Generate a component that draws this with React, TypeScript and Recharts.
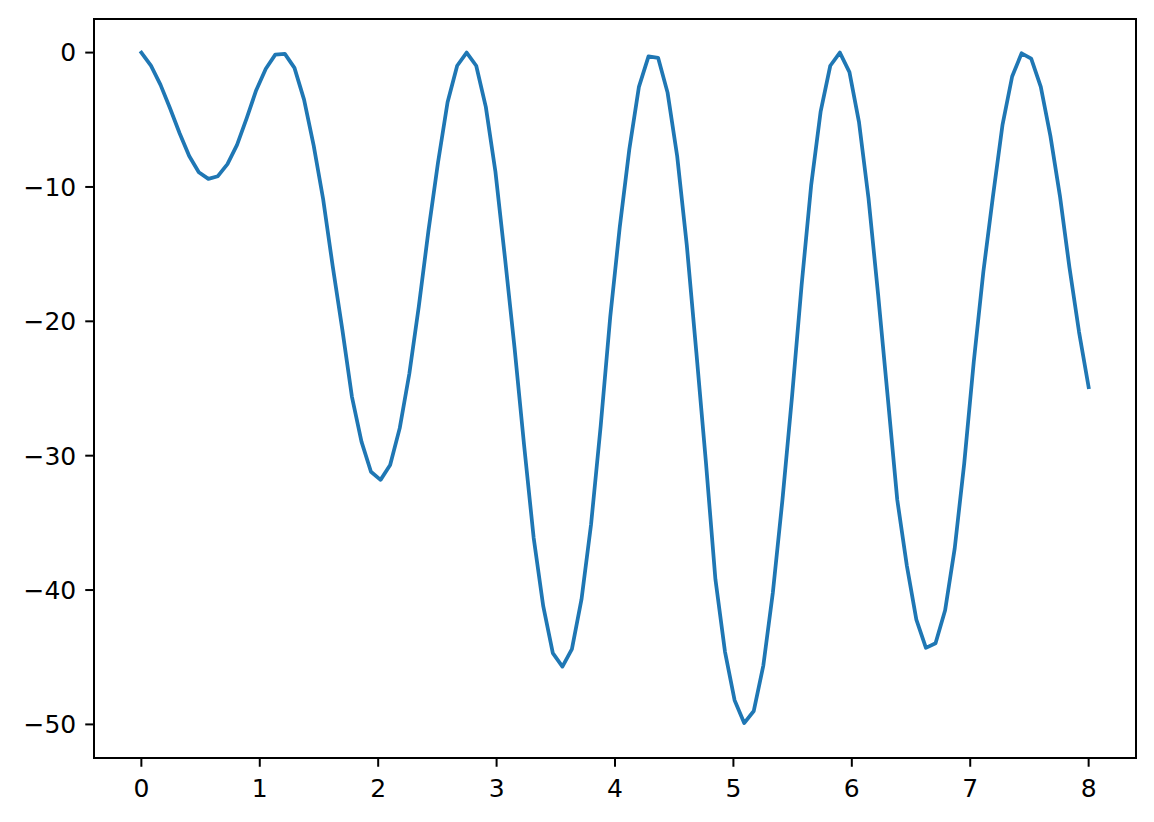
import { LineChart, Line, XAxis, YAxis, ReferenceArea } from 'recharts'

// sample positions along x (0 .. 8)
const xs = [
  0, 0.081, 0.162, 0.242, 0.323, 0.404, 0.485, 0.566, 0.646, 0.727,
  0.808, 0.889, 0.97, 1.051, 1.131, 1.212, 1.293, 1.374, 1.455, 1.535,
  1.616, 1.697, 1.778, 1.859, 1.939, 2.02, 2.101, 2.182, 2.263, 2.343,
  2.424, 2.505, 2.586, 2.667, 2.747, 2.828, 2.909, 2.99, 3.071, 3.152,
  3.232, 3.313, 3.394, 3.475, 3.556, 3.636, 3.717, 3.798, 3.879, 3.96,
  4.04, 4.121, 4.202, 4.283, 4.364, 4.444, 4.525, 4.606, 4.687, 4.768,
  4.848, 4.929, 5.01, 5.091, 5.172, 5.253, 5.333, 5.414, 5.495, 5.576,
  5.657, 5.737, 5.818, 5.899, 5.98, 6.061, 6.141, 6.222, 6.303, 6.384,
  6.465, 6.545, 6.626, 6.707, 6.788, 6.869, 6.949, 7.03, 7.111, 7.192,
  7.273, 7.354, 7.434, 7.515, 7.596, 7.677, 7.758, 7.838, 7.919, 8.0,
]

// values
const ys = [
  0, -0.97, -2.4, -4.14, -6.0, -7.7, -8.9, -9.4, -9.2, -8.3,
  -6.87, -4.9, -2.8, -1.2, -0.15, -0.1, -1.14, -3.5, -6.9, -10.9,
  -15.9, -20.6, -25.6, -28.95, -31.2, -31.8, -30.7, -27.95, -23.9, -18.9,
  -13.3, -8.2, -3.7, -0.98, 0.0, -0.98, -4.04, -8.85, -15.3, -22.0,
  -29.2, -36.1, -41.2, -44.7, -45.7, -44.4, -40.7, -35.1, -27.8, -19.65,
  -13.0, -7.2, -2.55, -0.28, -0.39, -2.98, -7.7, -14.3, -22.3, -30.5,
  -39.2, -44.6, -48.2, -49.9, -49.0, -45.6, -40.2, -33.3, -25.6, -17.3,
  -9.85, -4.37, -0.98, 0.0, -1.45, -5.2, -10.85, -18.0, -25.6, -33.3,
  -38.2, -42.2, -44.3, -43.96, -41.5, -36.9, -30.6, -23.0, -16.3, -10.7,
  -5.36, -1.78, -0.05, -0.45, -2.55, -6.2, -10.7, -16.0, -20.8, -24.9,
]

const xTicks = [0, 1, 2, 3, 4, 5, 6, 7, 8]
const yTicks = [0, -10, -20, -30, -40, -50]

const data = xs.map((x, i) => ({ x, y: ys[i] }))

const fmt = (v: number) => (v < 0 ? '\u2212' + Math.abs(v) : String(v))

const tickStyle = { fontFamily: 'DejaVu Sans', fontSize: 25, fill: '#000' }

export default function App() {
  return (
    <div style={{ width: 1146, height: 814 }}>
      <LineChart width={1146} height={814} data={data} margin={{ top: 11, right: 18, left: 0, bottom: 24 }}>
        <XAxis
          dataKey="x"
          type="number"
          domain={[-0.4, 8.4]}
          ticks={xTicks}
          tickFormatter={fmt}
          allowDataOverflow
          height={40}
          axisLine={false}
          tickSize={8.75}
          tickMargin={12}
          tickLine={{ stroke: '#000', strokeWidth: 2 }}
          tick={tickStyle}
        />
        <YAxis
          type="number"
          domain={[-52.5, 2.5]}
          ticks={yTicks}
          tickFormatter={fmt}
          allowDataOverflow
          width={86}
          axisLine={false}
          tickSize={8.75}
          tickMargin={9}
          tickLine={{ stroke: '#000', strokeWidth: 2 }}
          tick={tickStyle}
        />
        <Line
          type="linear"
          dataKey="y"
          stroke="#1f77b4"
          strokeWidth={3.75}
          strokeLinejoin="round"
          strokeLinecap="square"
          dot={false}
          isAnimationActive={false}
        />
        <ReferenceArea
          x1={-0.4}
          x2={8.4}
          y1={-52.5}
          y2={2.5}
          fill="none"
          fillOpacity={0}
          stroke="#000"
          strokeWidth={2}
          ifOverflow="visible"
        />
      </LineChart>
    </div>
  )
}
